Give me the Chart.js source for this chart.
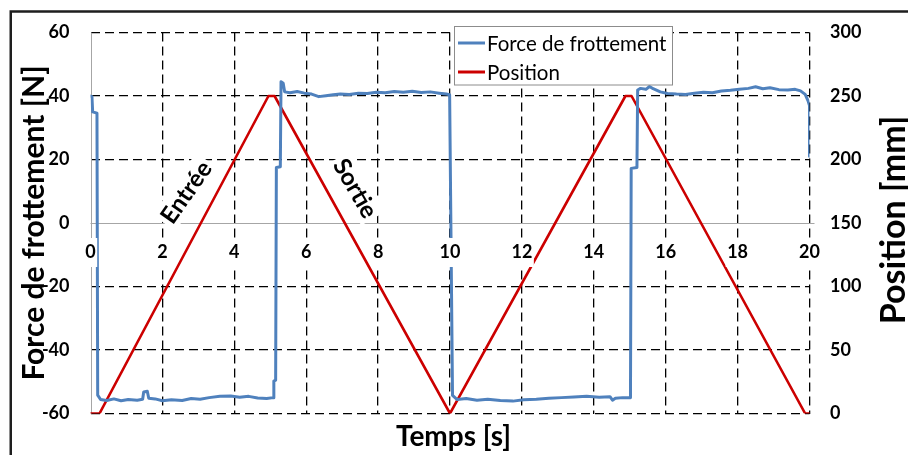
<!DOCTYPE html>
<html><head><meta charset="utf-8">
<script src="https://cdn.jsdelivr.net/npm/chart.js@4.4.0/dist/chart.umd.min.js"></script>
<style>html,body{margin:0;padding:0;background:#fff;}#wrap{position:relative;width:908px;height:455px;}</style>
</head><body><div id="wrap"><canvas id="c" width="908" height="455"></canvas></div>
<script>
const xTicks = [0, 2, 4, 6, 8, 10, 12, 14, 16, 18, 20];
const forceTicks = [-60, -40, -20, 0, 20, 40, 60];
const positionTicks = [0, 50, 100, 150, 200, 250, 300];
const seriesNames = ['Force de frottement', 'Position'];

const forceTime = [0, 0.04, 0.06, 0.18, 0.20, 0.28, 0.45, 0.65, 0.85, 1.05, 1.30, 1.45, 1.48, 1.58, 1.62, 1.80, 2.00, 2.25, 2.55, 2.80, 3.05, 3.30, 3.60, 3.90, 4.15, 4.40, 4.65, 4.90, 5.08, 5.10, 5.15, 5.17, 5.28, 5.30, 5.36, 5.40, 5.55, 5.75, 5.95, 6.15, 6.35, 6.55, 6.75, 6.95, 7.20, 7.45, 7.70, 7.95, 8.20, 8.45, 8.70, 8.95, 9.20, 9.45, 9.70, 9.90, 9.99, 10.07, 10.20, 10.45, 10.75, 11.05, 11.40, 11.75, 12.05, 12.40, 12.75, 13.10, 13.45, 13.80, 14.15, 14.45, 14.52, 14.60, 14.80, 15.02, 15.04, 15.20, 15.22, 15.30, 15.45, 15.55, 15.65, 15.85, 16.05, 16.30, 16.55, 16.80, 17.05, 17.30, 17.55, 17.80, 18.05, 18.30, 18.50, 18.70, 18.90, 19.15, 19.40, 19.60, 19.75, 19.88, 19.96, 20.00, 20.00];
const forceValues = [40, 39.8, 35.0, 34.6, -54.2, -55.6, -55.9, -55.4, -56.0, -55.6, -55.8, -55.5, -53.2, -53.0, -55.2, -55.4, -56.0, -55.7, -55.9, -55.3, -55.5, -55.0, -54.6, -54.5, -54.9, -54.6, -55.1, -55.3, -55.0, -49.8, -49.5, 17.5, 17.7, 44.5, 44.0, 41.3, 41.0, 41.4, 40.9, 40.6, 39.8, 40.1, 40.4, 40.6, 40.5, 40.9, 40.8, 41.2, 41.0, 41.4, 41.2, 41.5, 41.1, 41.3, 40.9, 40.6, 40.4, -54.3, -55.6, -55.3, -55.8, -55.5, -55.9, -56.1, -55.7, -55.5, -55.2, -55.0, -54.8, -54.6, -54.9, -54.7, -55.8, -55.2, -55.0, -55.0, 17.2, 17.5, 41.9, 42.4, 42.1, 43.0, 42.3, 41.3, 40.8, 40.6, 40.5, 40.9, 41.2, 41.0, 41.6, 41.8, 42.1, 42.4, 42.9, 42.3, 42.6, 42.0, 41.9, 42.1, 41.6, 40.5, 38.5, 37.0, 21.0];

const posTime = [0, 0.25, 4.95, 5.12, 10.0, 14.88, 15.05, 19.88, 20.0];
const posValues = [0, 0, 250, 250, 0, 250, 250, 0, 0];

const annotations = [
  { text: 'Entrée', t: 2.65, f: 9.8, angle: -55 },
  { text: 'Sortie', t: 7.38, f: 11.0, angle: 60 }
];

const FONT = 'Lato, Carlito, Calibri, "Open Sans", sans-serif';
const BLUE = '#4F81BD';
const RED = '#CC0000';

const setTicks = arr => s => { s.ticks = arr.map(v => ({ value: v })); };
const gridColor = c => (c.tick && c.tick.value === 0) ? 'rgba(0,0,0,0)' : '#000';

const overlay = {
  id: 'overlay',
  beforeDraw(chart) {
    const ctx = chart.ctx;
    ctx.save();
    ctx.fillStyle = '#fff';
    ctx.fillRect(0, 0, chart.width, chart.height);
    ctx.restore();
  },
  beforeDatasetsDraw(chart) {
    const ctx = chart.ctx, a = chart.chartArea;
    const y0 = chart.scales.y.getPixelForValue(0);
    ctx.save();
    ctx.strokeStyle = '#a6a6a6';
    ctx.lineWidth = 1;
    ctx.beginPath();
    const lx = Math.round(a.left) + 0.5;
    ctx.moveTo(lx, a.top); ctx.lineTo(lx, a.bottom);
    const ly = Math.round(y0) + 0.5;
    ctx.moveTo(a.left, ly); ctx.lineTo(a.right + 5, ly);
    ctx.stroke();
    ctx.restore();
  },
  afterDatasetsDraw(chart) {
    const ctx = chart.ctx;
    const xs = chart.scales.x, ys = chart.scales.y;
    const y0 = ys.getPixelForValue(0);
    ctx.save();
    ctx.font = 'bold 18px ' + FONT;
    ctx.textAlign = 'center';
    ctx.textBaseline = 'middle';
    xTicks.forEach(v => {
      const x = xs.getPixelForValue(v);
      const label = String(v);
      const w = ctx.measureText(label).width;
      const cy = y0 + 29;
      ctx.fillStyle = '#fff';
      ctx.fillRect(x - w / 2 - 1.5, cy - 14, w + 3, 29);
      ctx.fillStyle = '#000';
      ctx.fillText(label, x, cy);
    });
    ctx.font = 'bold 24px ' + FONT;
    annotations.forEach(an => {
      const x = xs.getPixelForValue(an.t), y = ys.getPixelForValue(an.f);
      ctx.save();
      ctx.translate(x, y);
      ctx.rotate(an.angle * Math.PI / 180);
      const w = ctx.measureText(an.text).width;
      ctx.fillStyle = '#fff';
      ctx.fillRect(-w / 2 - 3, -14, w + 6, 28);
      ctx.fillStyle = '#000';
      ctx.fillText(an.text, 0, 1);
      ctx.restore();
    });
    const lx = 454.5, ly = 26.5, lw = 218, lh = 58.5;
    ctx.fillStyle = '#fff';
    ctx.fillRect(lx, ly, lw, lh);
    ctx.strokeStyle = '#8c8c8c';
    ctx.lineWidth = 1;
    ctx.strokeRect(lx, ly, lw, lh);
    const colors = [BLUE, RED];
    const rows = [43, 72];
    ctx.font = '20.5px ' + FONT;
    ctx.textAlign = 'left';
    seriesNames.forEach((n, i) => {
      ctx.strokeStyle = colors[i];
      ctx.lineWidth = 3;
      ctx.beginPath();
      ctx.moveTo(458, rows[i]); ctx.lineTo(485, rows[i]);
      ctx.stroke();
      ctx.fillStyle = '#000';
      ctx.fillText(n, 487, rows[i] + 1);
    });
    ctx.restore();
  },
  afterDraw(chart) {
    const ctx = chart.ctx;
    ctx.save();
    ctx.fillStyle = '#000';
    ctx.textAlign = 'center';
    ctx.textBaseline = 'middle';
    ctx.font = 'bold 28px ' + FONT;
    ctx.fillText('Temps [s]', 453.5, 437);
    ctx.font = 'bold 34px ' + FONT;
    ctx.translate(894, 220);
    ctx.rotate(-Math.PI / 2);
    ctx.fillText('Position [mm]', 0, 0);
    ctx.restore();
    ctx.save();
    ctx.strokeStyle = '#1e1e1e';
    ctx.lineWidth = 2.5;
    ctx.beginPath();
    ctx.moveTo(10.75, 460); ctx.lineTo(10.75, 11.5); ctx.lineTo(912, 11.5);
    ctx.stroke();
    ctx.restore();
  }
};

new Chart(document.getElementById('c'), {
  type: 'line',
  data: {
    datasets: [
      {
        label: seriesNames[0],
        data: forceTime.map((t, i) => ({ x: t, y: forceValues[i] })),
        yAxisID: 'y', borderColor: BLUE, borderWidth: 3,
        pointRadius: 0, tension: 0, fill: false,
        borderJoinStyle: 'round', borderCapStyle: 'round'
      },
      {
        label: seriesNames[1],
        data: posTime.map((t, i) => ({ x: t, y: posValues[i] })),
        yAxisID: 'y2', borderColor: RED, borderWidth: 2.6,
        pointRadius: 0, tension: 0, fill: false,
        borderJoinStyle: 'round', borderCapStyle: 'round'
      }
    ]
  },
  options: {
    responsive: false,
    animation: false,
    events: [],
    layout: { padding: { top: 32.5, left: 0, right: 0, bottom: 0 } },
    plugins: { legend: { display: false }, tooltip: { enabled: false } },
    scales: {
      x: {
        type: 'linear', position: 'bottom', min: 0, max: 20,
        afterBuildTicks: setTicks(xTicks),
        afterFit: s => { s.height = 41.5; },
        ticks: { display: false },
        grid: { color: gridColor, lineWidth: 1.3, drawTicks: false },
        border: { display: false, dash: [9, 5] },
        title: { display: false }
      },
      y: {
        type: 'linear', position: 'left', min: -60, max: 60,
        afterBuildTicks: setTicks(forceTicks),
        afterFit: s => { s.width = 90.5; },
        ticks: { color: '#000', font: { family: FONT, size: 18, weight: 'bold' }, padding: 21 },
        grid: { color: gridColor, lineWidth: 1.3, drawTicks: false },
        border: { display: false, dash: [9, 5] },
        title: { display: true, text: 'Force de frottement [N]', color: '#000',
          font: { family: FONT, size: 30, weight: 'bold' }, padding: { top: 16, bottom: 0 } }
      },
      y2: {
        type: 'linear', position: 'right', min: 0, max: 300,
        afterBuildTicks: setTicks(positionTicks),
        afterFit: s => { s.width = 98.5; },
        ticks: { color: '#000', font: { family: FONT, size: 18, weight: 'bold' }, padding: 20.5 },
        grid: { display: false, drawTicks: false },
        border: { display: false }
      }
    }
  },
  plugins: [overlay]
});
</script>
</body></html>
